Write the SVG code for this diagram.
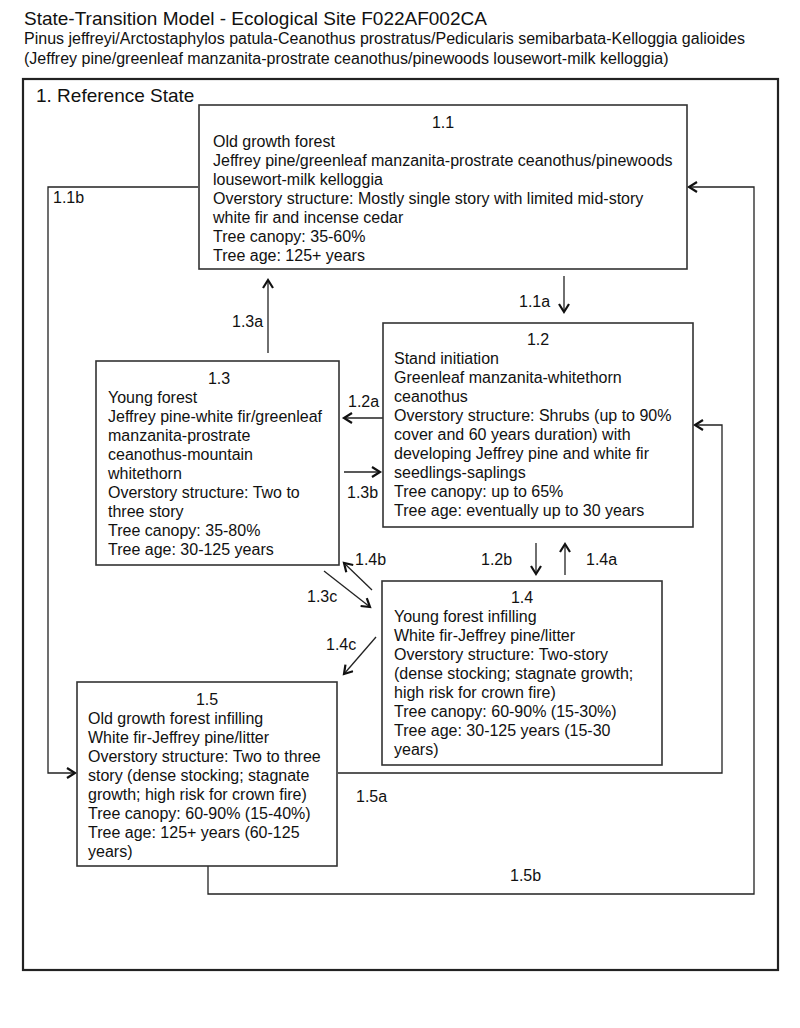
<svg xmlns="http://www.w3.org/2000/svg" width="800" height="1028" viewBox="0 0 800 1028">
<defs>
<marker id="arr" markerWidth="12" markerHeight="12" refX="9" refY="6" orient="auto" markerUnits="userSpaceOnUse">
<path d="M1,1 L9,6 L1,11" fill="none" stroke="#111" stroke-width="2.2" stroke-linejoin="miter"/>
</marker>
<style>
text{font-family:"Liberation Sans",Arial,sans-serif;fill:#111;}
.t{font-size:19px;}
.s{font-size:16px;}
.b{font-size:16px;}
.c{text-anchor:middle;}
.box{fill:#fff;stroke:#333;stroke-width:1.6;}
.outer{fill:none;stroke:#222;stroke-width:2.2;}
.ln{fill:none;stroke:#222;stroke-width:1.3;}
.lbl{font-size:16px;}
</style>
</defs>
<rect width="800" height="1028" fill="#fff"/>
<text class="t" x="24" y="25">State-Transition Model - Ecological Site F022AF002CA</text>
<text class="s" x="24" y="44">Pinus jeffreyi/Arctostaphylos patula-Ceanothus prostratus/Pedicularis semibarbata-Kelloggia galioides</text>
<text class="s" x="24" y="64">(Jeffrey pine/greenleaf manzanita-prostrate ceanothus/pinewoods lousewort-milk kelloggia)</text>
<g id="state1">
<rect class="outer" x="23" y="79" width="755" height="891"/>
<text class="t" x="36" y="102">1. Reference State</text>
</g>
<g id="connectors">
<path class="ln" d="M198,187 H48 V773 H75" marker-end="url(#arr)"/>
<path class="ln" d="M208,866 V894 H754 V187 H689" marker-end="url(#arr)"/>
<path class="ln" d="M338,773 H722 V425 H695" marker-end="url(#arr)"/>
<path class="ln" d="M564,276 V312" marker-end="url(#arr)"/>
<path class="ln" d="M268,353 V280" marker-end="url(#arr)"/>
<path class="ln" d="M383,418 H344" marker-end="url(#arr)"/>
<path class="ln" d="M344,472 H380" marker-end="url(#arr)"/>
<path class="ln" d="M536,543 V574" marker-end="url(#arr)"/>
<path class="ln" d="M565,575 V544" marker-end="url(#arr)"/>
<path class="ln" d="M372,590 L344,563" marker-end="url(#arr)"/>
<path class="ln" d="M324,571 L370,607" marker-end="url(#arr)"/>
<path class="ln" d="M376,637 L344,674" marker-end="url(#arr)"/>
<text class="lbl" x="53" y="203">1.1b</text>
<text class="lbl" x="519" y="307">1.1a</text>
<text class="lbl" x="232" y="327">1.3a</text>
<text class="lbl" x="348" y="407">1.2a</text>
<text class="lbl" x="347" y="498">1.3b</text>
<text class="lbl" x="481" y="565">1.2b</text>
<text class="lbl" x="586" y="565">1.4a</text>
<text class="lbl" x="355" y="565">1.4b</text>
<text class="lbl" x="307" y="602">1.3c</text>
<text class="lbl" x="326" y="650">1.4c</text>
<text class="lbl" x="356" y="802">1.5a</text>
<text class="lbl" x="510" y="881">1.5b</text>
</g>
<g id="n11">
<rect class="box" x="199" y="105" width="488" height="164"/>
<text class="b c" x="443" y="128">1.1</text>
<text class="b" x="213" y="147">Old growth forest</text>
<text class="b" x="213" y="166">Jeffrey pine/greenleaf manzanita-prostrate ceanothus/pinewoods</text>
<text class="b" x="213" y="185">lousewort-milk kelloggia</text>
<text class="b" x="213" y="204">Overstory structure: Mostly single story with limited mid-story</text>
<text class="b" x="213" y="223">white fir and incense cedar</text>
<text class="b" x="213" y="242">Tree canopy: 35-60%</text>
<text class="b" x="213" y="261">Tree age: 125+ years</text>
</g>
<g id="n12">
<rect class="box" x="383" y="323" width="310" height="204"/>
<text class="b c" x="538" y="345">1.2</text>
<text class="b" x="394" y="364">Stand initiation</text>
<text class="b" x="394" y="383">Greenleaf manzanita-whitethorn</text>
<text class="b" x="394" y="402">ceanothus</text>
<text class="b" x="394" y="421">Overstory structure: Shrubs (up to 90%</text>
<text class="b" x="394" y="440">cover and 60 years duration) with</text>
<text class="b" x="394" y="459">developing Jeffrey pine and white fir</text>
<text class="b" x="394" y="478">seedlings-saplings</text>
<text class="b" x="394" y="497">Tree canopy: up to 65%</text>
<text class="b" x="394" y="516">Tree age: eventually up to 30 years</text>
</g>
<g id="n13">
<rect class="box" x="96" y="361" width="243" height="204"/>
<text class="b c" x="219" y="384">1.3</text>
<text class="b" x="108" y="403">Young forest</text>
<text class="b" x="108" y="422">Jeffrey pine-white fir/greenleaf</text>
<text class="b" x="108" y="441">manzanita-prostrate</text>
<text class="b" x="108" y="460">ceanothus-mountain</text>
<text class="b" x="108" y="479">whitethorn</text>
<text class="b" x="108" y="498">Overstory structure: Two to</text>
<text class="b" x="108" y="517">three story</text>
<text class="b" x="108" y="536">Tree canopy: 35-80%</text>
<text class="b" x="108" y="555">Tree age: 30-125 years</text>
</g>
<g id="n14">
<rect class="box" x="382" y="581" width="280" height="184"/>
<text class="b c" x="522" y="603">1.4</text>
<text class="b" x="394" y="622">Young forest infilling</text>
<text class="b" x="394" y="641">White fir-Jeffrey pine/litter</text>
<text class="b" x="394" y="660">Overstory structure: Two-story</text>
<text class="b" x="394" y="679">(dense stocking; stagnate growth;</text>
<text class="b" x="394" y="698">high risk for crown fire)</text>
<text class="b" x="394" y="717">Tree canopy: 60-90% (15-30%)</text>
<text class="b" x="394" y="736">Tree age: 30-125 years (15-30</text>
<text class="b" x="394" y="755">years)</text>
</g>
<g id="n15">
<rect class="box" x="77" y="682" width="260" height="184"/>
<text class="b c" x="207" y="705">1.5</text>
<text class="b" x="88" y="724">Old growth forest infilling</text>
<text class="b" x="88" y="743">White fir-Jeffrey pine/litter</text>
<text class="b" x="88" y="762">Overstory structure: Two to three</text>
<text class="b" x="88" y="781">story (dense stocking; stagnate</text>
<text class="b" x="88" y="800">growth; high risk for crown fire)</text>
<text class="b" x="88" y="819">Tree canopy: 60-90% (15-40%)</text>
<text class="b" x="88" y="838">Tree age: 125+ years (60-125</text>
<text class="b" x="88" y="857">years)</text>
</g>
</svg>
